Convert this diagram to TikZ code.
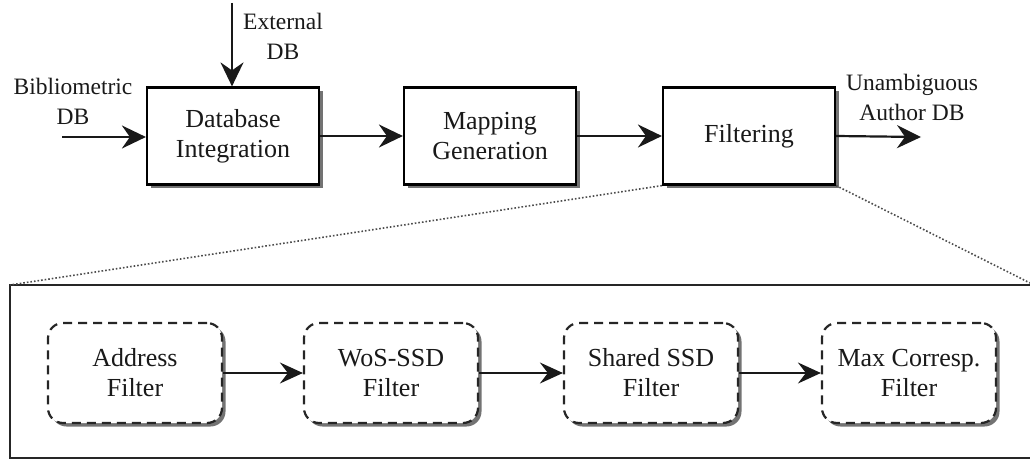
\documentclass[tikz,border=0pt]{standalone}
\usepackage{fontspec}
\setmainfont{Liberation Serif}
\usetikzlibrary{arrows.meta,shadows}
\tikzset{
  boxtext/.style={font=\fontsize{26}{30}\selectfont},
  proc/.style={boxtext, draw=black, line width=2.2pt, fill=white, minimum width=172pt, minimum height=97pt,
    align=center, inner sep=0pt,
    drop shadow={shadow xshift=3.5pt, shadow yshift=-3.5pt, fill=black!55, opacity=1}},
  filt/.style={boxtext, draw=black!85, line width=2.2pt, dash pattern=on 9pt off 6pt, rounded corners=15pt,
    fill=white, minimum width=174pt, minimum height=100pt, align=center, inner sep=0pt,
    drop shadow={shadow xshift=3.5pt, shadow yshift=-3.5pt, fill=black!55, opacity=1}},
  lbl/.style={align=center, inner sep=0pt},
  flow/.style={line width=2.2pt, -{Stealth[length=24pt, width=23pt, inset=8pt]}},
  subflow/.style={line width=1.8pt, -{Stealth[length=23pt, width=21pt, inset=8pt]}},
  zoomline/.style={line width=1.6pt, dotted, black!70},
}
\begin{document}
\begin{tikzpicture}[x=1pt, y=-1pt, font=\fontsize{23.5}{30}\selectfont, color=black!90]
\useasboundingbox (0,0) rectangle (1030,460);

% detail panel of the filtering stage
\draw[line width=2.2pt, black!85] (10,285) rectangle (1045,458);
\coordinate (panelNW) at (10,285);
\coordinate (panelNE) at (1030,283);

% main pipeline
\node[proc] (dbi) at (233,136) {Database\\Integration};
\node[proc] (map) at (490,136) {Mapping\\Generation};
\node[proc] (flt) at (749,136) {Filtering};

% inputs and output
\coordinate (bibIn) at (62,137);
\coordinate (extIn) at (232,3);
\coordinate (out) at (921,137);
\node[lbl] (bibLbl) at (73,101) {Bibliometric\\DB};
\node[lbl] (extLbl) at (283,36) {External\\DB};
\node[lbl] (outLbl) at (912,97) {Unambiguous\\Author DB};

\draw[flow] (bibIn) -- (bibIn -| dbi.west);
\draw[flow] (extIn) -- (extIn |- dbi.north);
\draw[flow] (dbi) -- (map);
\draw[flow] (map) -- (flt);
\draw[flow] (flt.east) -- (out);

% zoom lines
\draw[zoomline] (flt.south west) -- (panelNW);
\draw[zoomline] (flt.south east) -- (panelNE);

% filter chain
\node[filt] (f1) at (135,373) {Address\\Filter};
\node[filt] (f2) at (391,373) {WoS-SSD\\Filter};
\node[filt] (f3) at (651,373) {Shared SSD\\Filter};
\node[filt] (f4) at (909,373) {Max Corresp.\\Filter};

\draw[subflow] (f1) -- (f2);
\draw[subflow] (f2) -- (f3);
\draw[subflow] (f3) -- (f4);
\end{tikzpicture}
\end{document}
